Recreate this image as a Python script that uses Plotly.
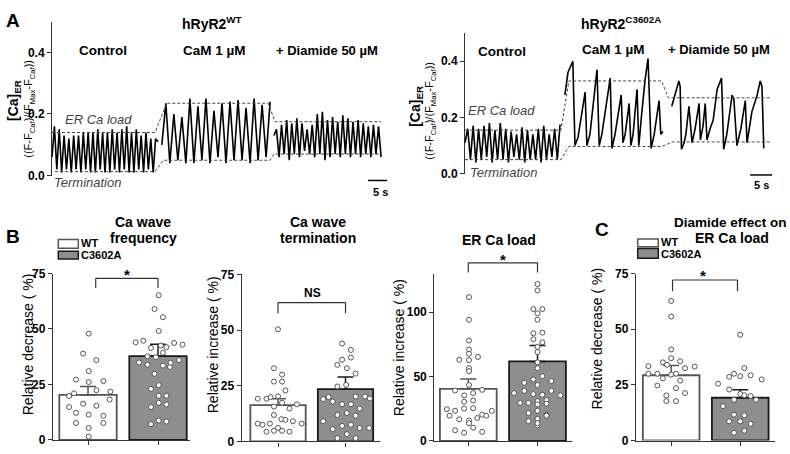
import plotly.graph_objects as go

W, H = 790, 454
FONT = "Liberation Sans"


def px(x):
    return x / W


def py(y):
    return 1 - y / H


# ---------------- Panel A data ----------------
# hRyR2 WT: segments (s), start value, peak and trough values
wt_segments = [(0.0, 27.9), (28.9, 57.4), (58.4, 86.6)]
wt_ctrl_start = 0.06
wt_ctrl_peaks = [0.16, 0.15, 0.13, 0.12, 0.13, 0.13, 0.14, 0.14, 0.14, 0.15, 0.14,
                 0.14, 0.15, 0.14, 0.15, 0.16, 0.14, 0.15, 0.13, 0.14, 0.12, 0.12]
wt_ctrl_troughs = [0.02, 0.01, 0.02, 0.01, 0.02, 0.01, 0.02, 0.01, 0.01, 0.02, 0.01,
                   0.01, 0.02, 0.01, 0.02, 0.01, 0.01, 0.02, 0.01, 0.02, 0.01, 0.11]
wt_cam_start = 0.10
wt_cam_peaks = [0.235, 0.20, 0.19, 0.25, 0.225, 0.25, 0.21, 0.235, 0.24, 0.245,
                0.22, 0.25, 0.23, 0.24]
wt_cam_troughs = [0.04, 0.05, 0.04, 0.04, 0.05, 0.04, 0.06, 0.04, 0.05, 0.05,
                  0.04, 0.05, 0.06]
wt_dia_start = 0.13
wt_dia_peaks = [0.15, 0.165, 0.18, 0.17, 0.186, 0.17, 0.15, 0.165, 0.20, 0.207, 0.18,
                0.19, 0.175, 0.196, 0.186, 0.175, 0.18, 0.17, 0.16, 0.165, 0.16]
wt_dia_troughs = [0.06, 0.07, 0.05, 0.07, 0.06, 0.08, 0.07, 0.06, 0.07, 0.05, 0.06,
                  0.07, 0.06, 0.07, 0.06, 0.07, 0.06, 0.07, 0.06, 0.07, 0.06]
wt_load_t = [0.0, 27.1, 30.2, 56.9, 58.7, 86.6]
wt_load_v = [0.14, 0.14, 0.235, 0.235, 0.175, 0.175]
wt_term_t = [0.8, 27.1, 29.3, 57.4, 58.4, 86.6]
wt_term_v = [0.013, 0.013, 0.05, 0.05, 0.07, 0.07]

# hRyR2 C3602A
mu_ctrl_seg = (0.0, 21.6)
mu_ctrl_start = 0.11
mu_ctrl_peaks = [0.16, 0.17, 0.16, 0.17, 0.18, 0.155, 0.18, 0.16, 0.15, 0.14,
                 0.165, 0.155, 0.14, 0.16, 0.17, 0.14, 0.16, 0.175]
mu_ctrl_troughs = [0.05, 0.04, 0.05, 0.06, 0.04, 0.05, 0.05, 0.04, 0.06, 0.05,
                   0.04, 0.05, 0.05, 0.04, 0.05, 0.06, 0.05]
mu_cam_t = [22.7, 23.4, 24.5, 25.0, 25.7, 27.3, 27.7, 28.4, 30.0, 30.5, 31.1, 33.0,
            33.4, 34.1, 35.5, 35.9, 36.4, 37.3, 37.7, 38.2, 39.1, 39.5, 40.2, 40.9,
            41.6, 42.3, 43.0, 44.1, 44.5, 45.0]
mu_cam_v = [0.28, 0.36, 0.40, 0.10, 0.13, 0.29, 0.10, 0.14, 0.37, 0.10, 0.14, 0.34,
            0.09, 0.14, 0.28, 0.11, 0.14, 0.25, 0.10, 0.14, 0.30, 0.10, 0.22, 0.33,
            0.41, 0.09, 0.14, 0.26, 0.14, 0.15]
mu_dia_t = [47.0, 47.7, 48.2, 48.6, 48.9, 49.2, 49.8, 50.2, 50.9, 51.6, 52.3, 53.2,
            53.5, 54.1, 54.6, 55.0, 55.7, 56.4, 57.3, 58.3, 58.8, 59.5, 60.7, 61.1,
            61.8, 62.7, 63.7, 64.1, 65.2, 66.4, 67.1, 67.5, 67.9]
mu_dia_v = [0.24, 0.28, 0.315, 0.33, 0.31, 0.087, 0.11, 0.14, 0.24, 0.11, 0.16, 0.25,
            0.12, 0.17, 0.25, 0.12, 0.16, 0.19, 0.30, 0.34, 0.087, 0.14, 0.28, 0.265,
            0.10, 0.16, 0.26, 0.11, 0.22, 0.28, 0.33, 0.31, 0.09]
mu_load_t = [0.0, 21.8, 23.6, 44.7, 46.2, 69.3]
mu_load_v = [0.155, 0.155, 0.33, 0.33, 0.27, 0.27]
mu_term_t = [0.0, 21.8, 23.6, 44.7, 47.3, 69.3]
mu_term_v = [0.05, 0.05, 0.097, 0.097, 0.113, 0.113]

# ---------------- Panel B / C data ----------------
groups = ["WT", "C3602A"]

freq_mean = [20.3, 37.8]
freq_sem = [3.8, 5.3]
freq_wt = [47.9, 38.9, 36, 31, 27.2, 26.1, 26.5, 21, 22.4, 21.8, 19.8, 18.2, 16.3, 14.8,
           15.4, 12.2, 11.4, 10.9, 7.6, 7.6, 5.4, 1.5]
freq_wt_jit = [0.01, -0.07, 0.12, 0.01, -0.17, 0.01, 0.22, -0.2, 0.12, 0.32, -0.27, 0.31,
               -0.07, -0.27, 0.12, -0.17, 0.01, 0.22, -0.17, 0.22, 0.01, 0.01]
freq_mu = [65.2, 59, 55.3, 49.1, 44, 44.7, 43.7, 42.9, 41.8, 42.5, 41.5, 39.3, 37.7, 37.3,
           34.9, 33.9, 33.5, 32.9, 34.8, 36, 29.8, 24.7, 23, 19.9, 19.9, 16.7, 16, 14.8,
           8.7, 8.3, 7.1]
freq_mu_jit = [0.01, -0.05, 0.07, 0.01, -0.32, -0.21, 0.23, 0.35, 0.12, 0.04, -0.1, 0.07,
               -0.15, -0.03, -0.27, -0.15, 0.07, 0.17, 0.18, 0.3, -0.05, 0.01, -0.1, 0.01,
               0.12, 0.01, 0.12, -0.1, 0.01, 0.12, -0.1]

term_mean = [16.3, 23.5]
term_sem = [2.9, 5.5]
term_wt = [50.4, 32.9, 30, 26.9, 26.9, 22.9, 19.2, 19.2, 19.9, 20.3, 17.4, 15.7, 14.8, 16.7,
           11.9, 8, 7.5, 8, 10, 9.7, 9.1, 8, 4.4, 4.8, 6.1, 4.8, 4.4]
term_wt_jit = [0, -0.06, 0.06, -0.06, 0.06, 0.11, -0.3, -0.17, -0.11, 0, 0.06, -0.06, 0.17,
               0.28, -0.06, -0.3, -0.23, -0.12, 0.05, 0.11, 0.22, 0.35, -0.17, -0.06, 0,
               0.06, 0.17]
term_mu = [44, 41.1, 37.7, 36.7, 34.4, 32.9, 30.5, 25.4, 24.7, 19, 20, 17.9, 16.7, 16.7,
           20.2, 20.2, 19.3, 14.8, 11.9, 12.8, 11.6, 9.1, 5.5, 7, 7.5, 6.1, 6.1, 1.5, 1.5, 3.3]
term_mu_jit = [-0.05, 0.08, 0.08, -0.05, -0.12, 0.02, 0.15, 0.01, -0.12, -0.33, -0.25,
               -0.19, -0.05, 0.08, 0.15, 0.29, 0.36, 0.21, -0.12, 0.02, 0.15, -0.33, -0.19,
               -0.05, 0.08, 0.21, 0.35, -0.12, 0.15, 0.02]

load_mean = [40.5, 61.8]
load_sem = [7.7, 12.3]
load_wt = [111.8, 94.2, 78.1, 71.1, 67.8, 63.1, 62.8, 65.3, 56.5, 54.3, 43.5, 39.2, 35.4,
           37.2, 39.7, 30.4, 31.4, 24.6, 23.4, 25.1, 25.4, 23.4, 19.6, 16.8, 15.8, 17.8,
           20.4, 19.6, 13.8, 10.3, 8.3, 6.3, 7.0]
load_wt_jit = [0.01, 0.01, 0.01, 0.01, 0.01, -0.13, 0.01, 0.14, 0.01, 0.01, 0.01, -0.19,
               -0.06, 0.07, 0.2, -0.06, 0.07, -0.31, -0.19, -0.06, 0.07, 0.34, -0.27,
               -0.13, 0.01, 0.13, 0.2, 0.26, 0.01, 0.07, -0.19, -0.06, 0.2]
load_mu = [122, 117, 102.5, 102.5, 99.2, 94.2, 83.7, 84.2, 79.1, 76.6, 73.1, 69.1, 61.1,
           56.5, 37.2, 38.9, 45.2, 47.7, 50.3, 46.5, 38.9, 35.4, 43.5, 36.4, 35.9, 29.6,
           30.9, 28.4, 31.7, 28.9, 29.6, 21.6, 23.4, 20.4, 19.6, 15.3, 17.1, 12.1, 13.8]
load_mu_jit = [0.0, 0.0, -0.06, 0.07, 0.0, 0.0, -0.06, 0.07, -0.06, 0.07, 0.0, 0.0, 0.0,
               0.0, -0.34, -0.19, -0.19, -0.06, 0.07, 0.2, 0.2, 0.33, 0.0, -0.06, 0.07,
               -0.13, 0.0, 0.0, 0.13, 0.13, -0.25, -0.13, 0.0, 0.13, 0.13, -0.13, 0.0,
               0.0, 0.0]

dia_mean = [29.3, 19.2]
dia_sem = [4.4, 3.6]
dia_wt = [62.7, 55.7, 40.9, 37, 33.4, 35.1, 34, 35.6, 32.5, 33.2, 30, 30, 29.6, 30, 27.9,
          26.9, 24.7, 23.5, 21.3, 20.2, 17.7, 17.7]
dia_wt_jit = [0, 0, 0, 0, -0.33, -0.12, -0.06, 0.13, 0.2, 0.34, -0.33, -0.2, 0, 0.07,
              -0.12, 0.13, -0.2, 0.07, 0.2, -0.07, -0.07, 0.07]
dia_mu = [47.5, 32.5, 25.5, 30, 28.6, 28.9, 29.3, 27.4, 22.9, 20.9, 20.3, 20, 18.3, 18.3,
          15.4, 11.6, 11.3, 8.6, 8.6, 7.5, 4.4, 3.5]
dia_mu_jit = [0, 0.06, -0.32, -0.09, -0.16, 0, 0.15, 0.31, -0.16, 0, 0.06, 0.15, -0.09,
              0.23, -0.25, -0.09, 0.06, -0.16, 0, 0.15, 0.06, -0.09]


def osc(seg, start, peaks, troughs):
    vals = [start]
    for i, p in enumerate(peaks):
        vals.append(p)
        if i < len(troughs):
            vals.append(troughs[i])
    n = len(vals) - 1
    t0, t1 = seg
    ts = [t0 + (t1 - t0) * k / n for k in range(n + 1)]
    return ts, vals


fig = go.Figure()

TRACE = dict(color="black", width=1.6)
DASH = dict(color="#444", width=1, dash="3px,2px")

# WT traces
for seg, st, pk, tr in [(wt_segments[0], wt_ctrl_start, wt_ctrl_peaks, wt_ctrl_troughs),
                        (wt_segments[1], wt_cam_start, wt_cam_peaks, wt_cam_troughs),
                        (wt_segments[2], wt_dia_start, wt_dia_peaks, wt_dia_troughs)]:
    t, v = osc(seg, st, pk, tr)
    fig.add_trace(go.Scatter(x=t, y=v, mode="lines", line=TRACE, xaxis="x", yaxis="y",
                             showlegend=False, hoverinfo="skip"))
fig.add_trace(go.Scatter(x=wt_load_t, y=wt_load_v, mode="lines", line=DASH, xaxis="x",
                         yaxis="y", showlegend=False))
fig.add_trace(go.Scatter(x=wt_term_t, y=wt_term_v, mode="lines", line=DASH, xaxis="x",
                         yaxis="y", showlegend=False))

# C3602A traces
t, v = osc(mu_ctrl_seg, mu_ctrl_start, mu_ctrl_peaks, mu_ctrl_troughs)
fig.add_trace(go.Scatter(x=t, y=v, mode="lines", line=TRACE, xaxis="x2", yaxis="y2",
                         showlegend=False))
fig.add_trace(go.Scatter(x=mu_cam_t, y=mu_cam_v, mode="lines", line=TRACE, xaxis="x2",
                         yaxis="y2", showlegend=False))
fig.add_trace(go.Scatter(x=mu_dia_t, y=mu_dia_v, mode="lines", line=TRACE, xaxis="x2",
                         yaxis="y2", showlegend=False))
fig.add_trace(go.Scatter(x=mu_load_t, y=mu_load_v, mode="lines", line=DASH, xaxis="x2",
                         yaxis="y2", showlegend=False))
fig.add_trace(go.Scatter(x=mu_term_t, y=mu_term_v, mode="lines", line=DASH, xaxis="x2",
                         yaxis="y2", showlegend=False))

# Bar panels
bar_panels = [
    dict(ax="3", mean=freq_mean, sem=freq_sem, dots=[(freq_wt, freq_wt_jit), (freq_mu, freq_mu_jit)]),
    dict(ax="4", mean=term_mean, sem=term_sem, dots=[(term_wt, term_wt_jit), (term_mu, term_mu_jit)]),
    dict(ax="5", mean=load_mean, sem=load_sem, dots=[(load_wt, load_wt_jit), (load_mu, load_mu_jit)]),
    dict(ax="6", mean=dia_mean, sem=dia_sem, dots=[(dia_wt, dia_wt_jit), (dia_mu, dia_mu_jit)]),
]
fills = ["white", "#8e8e8e"]
edges = ["#555555", "#1a1a1a"]
for p in bar_panels:
    for g in range(2):
        fig.add_trace(go.Bar(
            x=[g], y=[p["mean"][g]], width=0.82, xaxis="x" + p["ax"], yaxis="y" + p["ax"],
            marker=dict(color=fills[g], line=dict(color=edges[g], width=1.8)),
            error_y=dict(type="data", symmetric=False, array=[p["sem"][g]], arrayminus=[0],
                         color=edges[g], thickness=1.5, width=8),
            showlegend=False, name=groups[g]))
    for g in range(2):
        vals, jit = p["dots"][g]
        fig.add_trace(go.Scatter(
            x=[g + j for j in jit], y=vals, mode="markers", xaxis="x" + p["ax"],
            yaxis="y" + p["ax"], cliponaxis=False,
            marker=dict(size=5, color="white", line=dict(color="#555", width=1)),
            showlegend=False))

layout = dict(
    width=W, height=H, margin=dict(l=0, r=0, t=0, b=0),
    paper_bgcolor="white", plot_bgcolor="white",
    font=dict(family=FONT, color="black"), barmode="overlay",
)

TICKF = dict(family=FONT, size=12, color="black", weight="bold")

# A axes
layout["xaxis"] = dict(domain=[px(52), px(390)], range=[0, 338 / 3.8], visible=False)
layout["yaxis"] = dict(domain=[py(174), py(15)], range=[0, 0.5], showline=True,
                       linecolor="#333", linewidth=1, ticks="outside", ticklen=4,
                       tickcolor="#333", tickvals=[0, 0.2, 0.4],
                       ticktext=["0.0", "0.2", "0.4"], tickfont=TICKF, showgrid=False,
                       zeroline=False, anchor="x")
layout["xaxis2"] = dict(domain=[px(465), px(778)], range=[0, 313 / 4.4], visible=False,
                        anchor="y2")
layout["yaxis2"] = dict(domain=[py(172), py(27)], range=[0, 0.5], showline=True,
                        linecolor="#333", linewidth=1, ticks="outside", ticklen=4,
                        tickcolor="#333", tickvals=[0, 0.2, 0.4],
                        ticktext=["0.0", "0.2", "0.4"], tickfont=TICKF, showgrid=False,
                        zeroline=False, anchor="x2")

bar_axes = [
    ("3", (53, 190), (-0.5, 1.457), (446.7, 275), 75, [0, 25, 50, 75]),
    ("4", (241.7, 380), (-0.538, 1.511), (448.3, 276), 75, [0, 25, 50, 75]),
    ("5", (434.3, 571.7), (-0.491, 1.494), (447.7, 275.2), 130, [0, 50, 100]),
    ("6", (636, 775), (-0.509, 1.503), (447.3, 275), 75, [0, 25, 50, 75]),
]
for ax, xd, xr, yd, ymax, tv in bar_axes:
    layout["xaxis" + ax] = dict(domain=[px(xd[0]), px(xd[1])], range=list(xr),
                                showline=True, linecolor="#333", linewidth=1.3,
                                ticks="outside", ticklen=4, tickcolor="#333",
                                tickvals=[0, 1], showticklabels=False, showgrid=False,
                                zeroline=False, anchor="y" + ax, fixedrange=True)
    layout["yaxis" + ax] = dict(domain=[py(yd[0]), py(yd[1])], range=[0, ymax],
                                showline=True, linecolor="#333", linewidth=1.3,
                                ticks="outside", ticklen=4, tickcolor="#333",
                                tickvals=tv, tickfont=TICKF, showgrid=False,
                                zeroline=False, anchor="x" + ax)

ann = []


def A(text, x, y, size=13, bold=False, italic=False, color="black", angle=0,
      xanchor="center", yanchor="middle"):
    ann.append(dict(text=text, x=px(x), y=py(y), xref="paper", yref="paper",
                    showarrow=False, textangle=angle, xanchor=xanchor, yanchor=yanchor,
                    font=dict(family=FONT, size=size, color=color,
                              weight="bold" if bold else "normal",
                              style="italic" if italic else "normal")))


# Panel A texts
A("A", 13, 14, size=19, bold=True)
A("hRyR2<sup>WT</sup>", 212, 16, size=14, bold=True)
A("hRyR2<sup>C3602A</sup>", 621, 16, size=14, bold=True)
A("Control", 103, 45, size=13.5, bold=True)
A("CaM 1 µM", 214, 45, size=13.5, bold=True)
A("+ Diamide 50 µM", 327, 45, size=13, bold=True)
A("Control", 502, 46, size=13.5, bold=True)
A("CaM 1 µM", 613, 44, size=13.5, bold=True)
A("+ Diamide 50 µM", 719, 44, size=13, bold=True)
A("ER Ca load", 98, 116, size=13, italic=True, color="#444")
A("Termination", 87, 181, size=13, italic=True, color="#444")
A("ER Ca load", 502, 107, size=13, italic=True, color="#444")
A("Termination", 504, 171, size=13, italic=True, color="#444")
A("[Ca]<sub>ER</sub>", 14, 97, size=14, bold=True, angle=-90)
A("((F-F<sub>Caf</sub>)/(F<sub>Max</sub>-F<sub>Caf</sub>))", 29, 105, size=11, angle=-90)
A("[Ca]<sub>ER</sub>", 416, 103, size=14, bold=True, angle=-90)
A("((F-F<sub>Caf</sub>)/(F<sub>Max</sub>-F<sub>Caf</sub>))", 430, 107, size=11, angle=-90)
A("5 s", 380, 191, size=11, bold=True)
A("5 s", 761, 184, size=11, bold=True)

# Panel B / C texts
A("B", 13, 237, size=19, bold=True)
A("C", 602, 230, size=19, bold=True)
A("Ca wave", 143, 222, size=14, bold=True)
A("frequency", 143, 238, size=14, bold=True)
A("Ca wave", 318, 222, size=14, bold=True)
A("termination", 318, 238, size=14, bold=True)
A("ER Ca load", 499, 240, size=14, bold=True)
A("Diamide effect on", 789, 222, size=13.5, bold=True, xanchor="right")
A("ER Ca load", 732, 238, size=14, bold=True)
A("WT", 79, 244, size=11, bold=True, xanchor="left")
A("C3602A", 79, 256, size=11, bold=True, xanchor="left")
A("WT", 659, 242, size=11, bold=True, xanchor="left")
A("C3602A", 659, 254.5, size=11, bold=True, xanchor="left")
A("Relative decrease ( %)", 28, 348, size=14, angle=-90)
A("Relative increase ( %)", 213, 349, size=14, angle=-90)
A("Relative increase ( %)", 399, 352, size=14, angle=-90)
A("Relative decrease ( %)", 597, 342, size=14, angle=-90)
A("*", 127, 276, size=15, bold=True)
A("NS", 312, 295, size=12, bold=True)
A("*", 503, 261, size=15, bold=True)
A("*", 703, 277, size=15, bold=True)

layout["annotations"] = ann

shapes = []
# scale bars
shapes.append(dict(type="line", xref="x", yref="paper", x0=83.2, x1=88.2, y0=py(179),
                   y1=py(179), line=dict(color="black", width=1.5)))
shapes.append(dict(type="line", xref="x2", yref="paper", x0=64.8, x1=69.8, y0=py(173.3),
                   y1=py(173.3), line=dict(color="black", width=1.5)))
# legend boxes
for (x0, x1, y0, y1, fc, lc) in [(58.3, 78.3, 240, 249, "white", "#555"),
                                 (58.3, 78.3, 252, 260, "#8e8e8e", "#1a1a1a"),
                                 (637.7, 658.3, 239.3, 247.3, "white", "#555"),
                                 (637.7, 658.3, 249.3, 259.3, "#8e8e8e", "#1a1a1a")]:
    shapes.append(dict(type="rect", xref="paper", yref="paper", x0=px(x0), x1=px(x1),
                       y0=py(y1), y1=py(y0), fillcolor=fc, line=dict(color=lc, width=1.5)))
# significance brackets
for ax, xa, xb, ytop, yleg in [("x3", 0.11, 1.0, 280, 290), ("x4", 0.0, 1.0, 305, 316),
                               ("x5", 0.0, 1.0, 264, 274), ("x6", 0.02, 0.96, 281.7, 293.3)]:
    for (a0, b0, a1, b1) in [(xa, yleg, xa, ytop), (xa, ytop, xb, ytop), (xb, ytop, xb, yleg)]:
        shapes.append(dict(type="line", xref=ax, yref="paper", x0=a0, x1=a1, y0=py(b0),
                           y1=py(b1), line=dict(color="#333", width=1.2)))
layout["shapes"] = shapes

fig.update_layout(**layout)
fig.write_html(
    "out.html",
    config=dict(displayModeBar=False),
    post_script="document.body.style.margin='0px';document.body.style.padding='0px';"
                "document.documentElement.style.overflow='hidden';",
)
